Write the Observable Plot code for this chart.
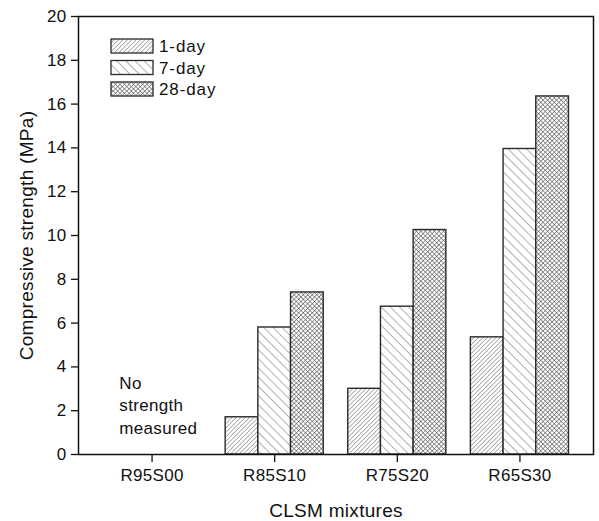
<!DOCTYPE html>
<html>
<head>
<meta charset="utf-8">
<script src="https://cdn.jsdelivr.net/npm/d3@7"></script>
<script src="https://cdn.jsdelivr.net/npm/@observablehq/plot@0.6"></script>
<style>
  html, body { margin: 0; padding: 0; background: white; }
</style>
</head>
<body>
<div id="chart"></div>
<script>
// ---- data ----
const categories = ["R95S00", "R85S10", "R75S20", "R65S30"];
const ages = ["1-day", "7-day", "28-day"];
const oneDay = [null, 1.7, 3.0, 5.35];
const sevenDay = [null, 5.8, 6.75, 13.95];
const twentyEightDay = [null, 7.4, 10.25, 16.35];
const yTicks = [0, 2, 4, 6, 8, 10, 12, 14, 16, 18, 20];
const note = "No\nstrength\nmeasured";

const seriesValues = [oneDay, sevenDay, twentyEightDay];
const table = [];
categories.forEach((c, ci) => {
  ages.forEach((a, ai) => {
    const v = seriesValues[ai][ci];
    if (v != null) table.push({ci, ai, mix: c, age: a, value: v});
  });
});

// grouped-bar layout in category units (each group is 0.8 wide)
const groupWidth = 0.8;
const slotStart = (ci, ai) => ci + (ai / ages.length - 0.5) * groupWidth;
const slotEnd = (ci, ai) => ci + ((ai + 1) / ages.length - 0.5) * groupWidth;
const slotMid = (ci, ai) => (slotStart(ci, ai) + slotEnd(ci, ai)) / 2;

const patternIds = ["pat-1day", "pat-7day", "pat-28day"];
const patternUrls = patternIds.map(id => `url(#${id})`);
const font = "'Liberation Sans', Arial, Helvetica, sans-serif";

const plot = Plot.plot({
  width: 599,
  height: 521,
  marginLeft: 78,
  marginRight: 6,
  marginTop: 16,
  marginBottom: 67,
  style: {fontFamily: font, fontSize: "17px", color: "#111", background: "white", letterSpacing: "0.3px"},
  x: {type: "linear", domain: [-0.6, categories.length - 0.4], axis: null},
  y: {domain: [0, 20], axis: null},
  color: {type: "ordinal", domain: ages, range: patternUrls},
  marks: [
    Plot.rectY(table, {
      x1: d => slotStart(d.ci, d.ai), x2: d => slotEnd(d.ci, d.ai),
      y1: 0, y2: "value", fill: "age", stroke: "#2a2a2a", strokeWidth: 1.4
    }),
    Plot.text([{ci: 0, ai: 0, v: 2.3, t: note}], {
      x: d => slotMid(d.ci, d.ai), y: "v", text: "t",
      textAnchor: "start", lineHeight: 1.33, fontSize: 17, fill: "#111"
    }),
    Plot.frame({stroke: "#111", strokeWidth: 1.5}),
    Plot.axisY({ticks: yTicks, tickSize: 7, tickPadding: 5, fontSize: 17, label: null, stroke: "#111", strokeWidth: 1.3}),
    Plot.axisY({ticks: [], label: "Compressive strength (MPa)", labelAnchor: "center", labelArrow: "none", labelOffset: 59, fontSize: 19}),
    Plot.axisX({ticks: d3.range(categories.length), tickFormat: i => categories[i], tickSize: 8, tickPadding: 6, fontSize: 17, label: null, stroke: "#111", strokeWidth: 1.3}),
    Plot.axisX({ticks: [], label: "CLSM mixtures", labelAnchor: "center", labelArrow: "none", labelOffset: 62, fontSize: 19})
  ]
});

// ---- patterns ----
const svg = d3.select(plot.tagName.toLowerCase() === "svg" ? plot : plot.querySelector("svg"));
const defs = svg.insert("defs", ":first-child");

function hatch(id, spacing, angles, color, width) {
  const p = defs.append("pattern")
    .attr("id", id)
    .attr("patternUnits", "userSpaceOnUse")
    .attr("width", spacing).attr("height", spacing)
    .attr("patternTransform", `rotate(${angles[0]})`);
  p.append("rect").attr("width", spacing).attr("height", spacing).attr("fill", "white");
  p.append("line").attr("x1", 0).attr("y1", 0).attr("x2", 0).attr("y2", spacing)
    .attr("stroke", color).attr("stroke-width", width);
  if (angles.length > 1) {
    p.append("line").attr("x1", 0).attr("y1", 0).attr("x2", spacing).attr("y2", 0)
      .attr("stroke", color).attr("stroke-width", width);
  }
}
hatch(patternIds[0], 3.1, [45], "#555", 0.9);
hatch(patternIds[1], 6.5, [-45], "#666", 1.0);
hatch(patternIds[2], 3.2, [45, 1], "#555", 1.15);

// ---- legend (inside plot, top-left) ----
const lg = svg.append("g")
  .attr("font-family", font).attr("font-size", 17).attr("fill", "#111")
  .attr("text-anchor", "start").style("letter-spacing", "0.9px");
ages.forEach((a, i) => {
  const y = 39 + i * 21.5;
  lg.append("rect").attr("x", 111).attr("y", y).attr("width", 42).attr("height", 14)
    .attr("fill", patternUrls[i]).attr("stroke", "#2a2a2a").attr("stroke-width", 1.3);
  lg.append("text").attr("x", 159).attr("y", y + 7).attr("dy", "0.36em").text(a);
});

document.getElementById("chart").appendChild(plot);
</script>
</body>
</html>
